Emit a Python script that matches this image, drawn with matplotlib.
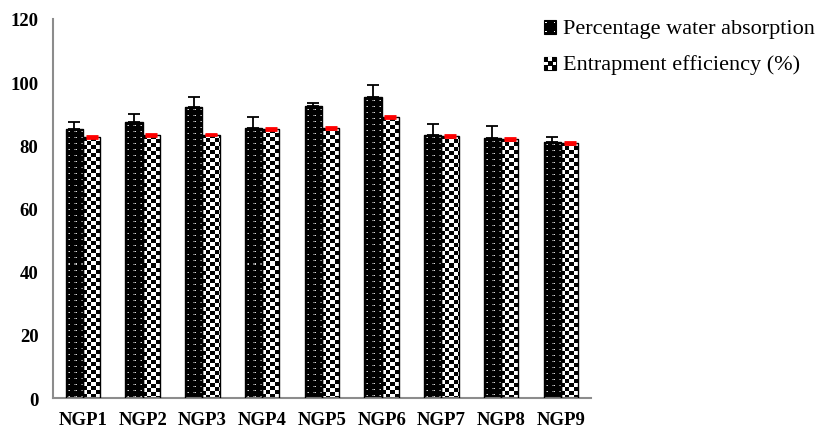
import numpy as np
import matplotlib
matplotlib.use("Agg")
import matplotlib.pyplot as plt
from matplotlib.patches import Rectangle
from matplotlib.legend_handler import HandlerBase

plt.rcParams["font.family"] = ["Liberation Serif", "DejaVu Serif"]

groups = ["NGP1", "NGP2", "NGP3", "NGP4", "NGP5", "NGP6", "NGP7", "NGP8", "NGP9"]
water_abs = [85.3, 87.3, 92.1, 85.4, 92.3, 95.2, 83.3, 82.2, 81.1]
water_err = [2.0, 2.5, 3.1, 3.5, 1.1, 3.9, 3.5, 3.8, 1.6]
entrap = [82.5, 83.2, 83.4, 85.1, 85.6, 88.8, 83.0, 82.0, 80.8]
entrap_err = [0.3, 0.3, 0.3, 0.3, 0.3, 0.3, 0.3, 0.3, 0.3]
labels = ["Percentage water absorption", "Entrapment efficiency (%)"]


def dots(rows, cols):
    # black fill with small light dots, three columns across a bar
    img = np.zeros((rows, cols))
    r = np.arange(rows)[:, None]
    c = np.arange(cols)[None, :]
    img[((r % 6) == 3) & ((c % 6) == 3)] = 0.85
    img[((r % 6) == 3) & ((c % 6) == 2)] = 0.45
    return img


def checker(rows, cols):
    r = np.arange(rows)[:, None]
    c = np.arange(cols)[None, :]
    return (((r // 4) + (c // 4)) % 2).astype(float)


def texture(ax, bars, pattern):
    fig = ax.figure
    for b in bars:
        ext = b.get_window_extent(fig.canvas.get_renderer())
        rows, cols = max(int(ext.height), 1), max(int(ext.width), 1)
        img = pattern(rows, cols)
        x, w, h = b.get_x(), b.get_width(), b.get_height()
        im = ax.imshow(img, cmap="gray", vmin=0, vmax=1, origin="upper",
                       extent=[x, x + w, 0, h], interpolation="nearest",
                       aspect="auto", zorder=2)
        im.set_clip_path(b)


class PatternHandler(HandlerBase):
    def __init__(self, kind):
        super().__init__()
        self.kind = kind

    def legend_artist(self, legend, orig_handle, fontsize, handlebox):
        x0, y0 = handlebox.xdescent, handlebox.ydescent
        w, h = handlebox.width, handlebox.height
        handlebox.add_artist(Rectangle((x0, y0), w, h, facecolor="black",
                                       edgecolor="black", lw=0.8))
        n = 3
        for i in range(n):
            for j in range(n):
                if self.kind == "dots":
                    if (i + j) % 2 == 0 and i != 1:
                        handlebox.add_artist(Rectangle(
                            (x0 + w * (i + 0.35) / n, y0 + h * (j + 0.35) / n),
                            w * 0.3 / n, h * 0.3 / n, facecolor="white", lw=0))
                else:
                    if (i + j) % 2 == 1:
                        handlebox.add_artist(Rectangle(
                            (x0 + w * (i + 0.1) / n, y0 + h * (j + 0.1) / n),
                            w * 0.8 / n, h * 0.8 / n, facecolor="white", lw=0))
        return handlebox


fig = plt.figure(figsize=(8.16, 4.31), dpi=100)
ax = fig.add_axes([0.065, 0.074, 0.659, 0.880])

x = np.arange(len(groups))
bw = 0.29
b1 = ax.bar(x - bw / 2, water_abs, bw, color="none", edgecolor="black",
            linewidth=1, zorder=3)
b2 = ax.bar(x + bw / 2, entrap, bw, color="none", edgecolor="black",
            linewidth=1, zorder=3)

ax.set_xlim(-0.5, len(groups) - 0.5)
ax.set_ylim(0, 120)
texture(ax, b1, dots)
texture(ax, b2, checker)
ax.set_xlim(-0.5, len(groups) - 0.5)
ax.set_ylim(0, 120)

ax.errorbar(x - bw / 2, water_abs, yerr=[np.zeros(len(groups)), water_err],
            fmt="none", ecolor="black", elinewidth=1.3, capsize=4,
            capthick=1.3, zorder=4)
ax.errorbar(x + bw / 2, entrap, yerr=entrap_err, fmt="none", ecolor="red",
            elinewidth=2, capsize=4, capthick=2, zorder=4)

ax.set_yticks(np.arange(0, 121, 20))
ax.set_xticks(x)
ax.set_xticklabels(groups)
ax.tick_params(axis="both", length=0, labelsize=13.5)
ax.tick_params(axis="x", pad=9.5)
ax.tick_params(axis="y", pad=10.5)
for t in ax.get_xticklabels() + ax.get_yticklabels():
    t.set_fontweight("bold")

for s in ["top", "right"]:
    ax.spines[s].set_visible(False)
for s in ["left", "bottom"]:
    ax.spines[s].set_color("#8c8c8c")
    ax.spines[s].set_linewidth(1.5)

h1 = Rectangle((0, 0), 1, 1)
h2 = Rectangle((0, 0), 1, 1)
fig.legend([h1, h2], labels, loc="upper left",
           bbox_to_anchor=(544 / 816, 1 - 19 / 431), frameon=False,
           fontsize=16, handlelength=0.55, handleheight=0.55,
           handletextpad=0.3, labelspacing=0.75, borderpad=0,
           borderaxespad=0,
           handler_map={h1: PatternHandler("dots"), h2: PatternHandler("checker")})

fig.savefig("out.png", dpi=100)
